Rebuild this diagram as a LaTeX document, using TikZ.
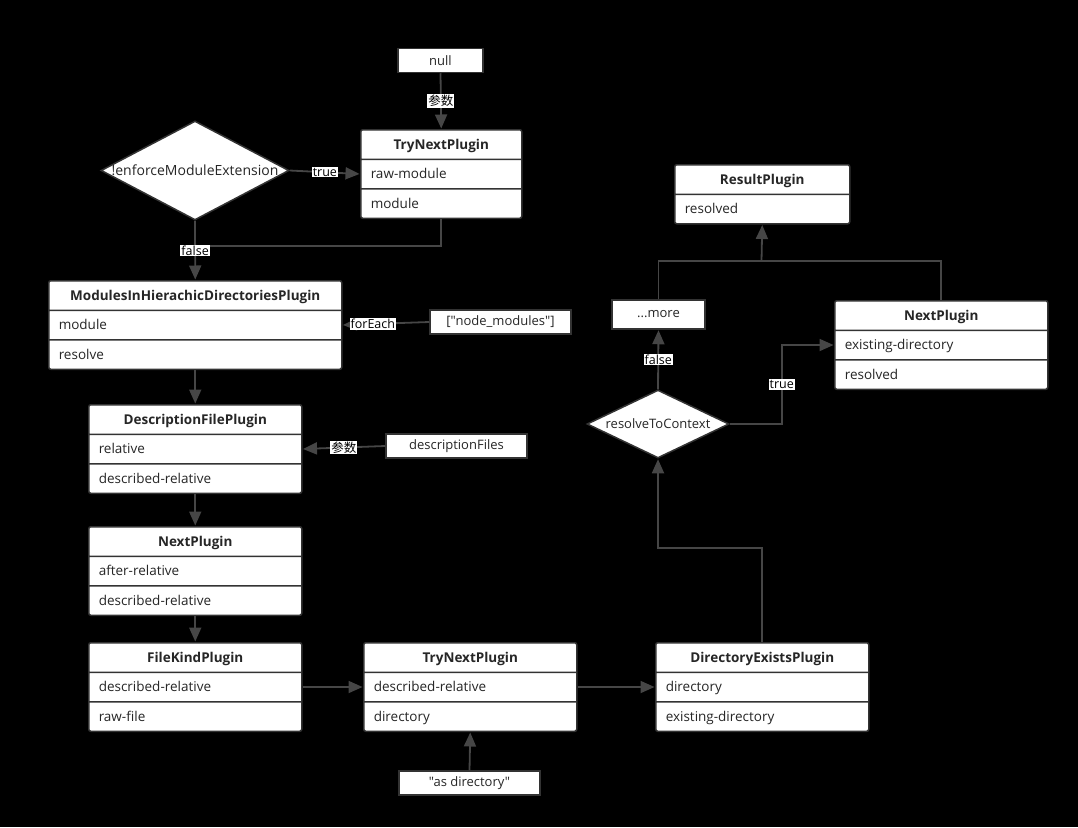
\documentclass[tikz,border=0pt]{standalone}
\usepackage{fontspec}
\setmainfont{Open Sans}
\newfontfamily\straight{Open Sans}[Mapping=]
\newfontfamily\cjk{Noto Sans CJK SC}
\usetikzlibrary{arrows.meta,shapes.multipart,shapes.geometric}
\definecolor{boxline}{HTML}{333333}
\definecolor{flowline}{HTML}{464646}
\newcommand{\rs}{\rule[-9.5pt]{0pt}{28pt}}
\newcommand{\ptitle}[1]{\makebox[\hsize][c]{\rs\textbf{#1}}}
\begin{document}
\begin{tikzpicture}[x=1pt,y=-1pt,
  plugin/.style={rectangle split, rectangle split parts=#1, draw=boxline, line width=1.5pt,
    fill=white, rounded corners=2pt, inner xsep=10pt, inner ysep=0pt, text width=193pt,
    align=left, anchor=north west, text=black!85, font=\fontsize{13.5}{15}\selectfont},
  value/.style={draw=boxline, line width=1.5pt, fill=white, minimum width=#1, minimum height=24pt,
    inner sep=0pt, text=black!85, font=\fontsize{13}{15}\selectfont},
  decision/.style={diamond, draw=boxline, line width=1.5pt, fill=white, inner sep=0pt,
    text=black!85, font=\fontsize{13}{15}\selectfont},
  flow/.style={draw=flowline, line width=1.8pt},
  flowarrow/.style={flow, -{Triangle[length=14pt,width=12pt]}, shorten >=0.5pt},
  lbl/.style={fill=white, text=black, inner sep=1pt, font=\fontsize{12.5}{14}\selectfont}]
\fill[black] (0,0) rectangle (1078,827);

% left column
\node[value=85pt] (null) at (440.5,60.5) {null};
\node[plugin=3, text width=141pt] (tn1) at (360,129)
  {\ptitle{TryNextPlugin}\nodepart{two}\rs raw-module\nodepart{three}\rs module};
\node[decision, minimum width=188pt, minimum height=99pt] (enf) at (195,170.5)
  {\makebox[0pt]{\fontsize{14}{15}\selectfont!enforceModuleExtension}};
\node[plugin=3, text width=273pt] (mod) at (48,280)
  {\ptitle{ModulesInHierachicDirectoriesPlugin}\nodepart{two}\rs module\nodepart{three}\rs resolve};
\node[value=141pt] (nodemods) at (500.5,322) {\straight["node\_modules"]};
\node[plugin=3] (dfp) at (88,404)
  {\ptitle{DescriptionFilePlugin}\nodepart{two}\rs relative\nodepart{three}\rs described-relative};
\node[value=141pt] (descfiles) at (456.5,446) {descriptionFiles};
\node[plugin=3] (np1) at (88,526)
  {\ptitle{NextPlugin}\nodepart{two}\rs after-relative\nodepart{three}\rs described-relative};
\node[plugin=3] (fk) at (88,642)
  {\ptitle{FileKindPlugin}\nodepart{two}\rs described-relative\nodepart{three}\rs raw-file};
\node[plugin=3] (tn2) at (363,642)
  {\ptitle{TryNextPlugin}\nodepart{two}\rs described-relative\nodepart{three}\rs directory};
\node[value=141pt] (asdir) at (469.5,783) {\straight"as directory"};

% right column
\node[plugin=3] (de) at (655,642)
  {\ptitle{DirectoryExistsPlugin}\nodepart{two}\rs directory\nodepart{three}\rs existing-directory};
\node[decision, minimum width=142pt, minimum height=68pt] (ctx) at (658,424)
  {\makebox[0pt]{resolveToContext}};
\node[value=93pt, minimum height=29pt] (more) at (658.5,314.5) {...more};
\node[plugin=3] (np2) at (834,300)
  {\ptitle{NextPlugin}\nodepart{two}\rs existing-directory\nodepart{three}\rs resolved};
\node[plugin=2, text width=155pt] (res) at (674,164)
  {\ptitle{ResultPlugin}\nodepart{two}\rs resolved};

\coordinate (falsejoin) at (195,246);
\coordinate (resjoin) at (761.5,261);

\draw[flowarrow] (null.south) -- node[lbl] {\cjk 参数} (tn1.north);
\draw[flowarrow] (enf.east) -- node[lbl, pos=0.5] {true} (tn1.two west);
\draw[flow] (tn1.south) |- (falsejoin);
\draw[flowarrow] (enf.south) -- node[lbl] {false} (mod.north);
\draw[flowarrow] (nodemods.west) -- node[lbl, pos=0.65] {forEach} (mod.two east);
\draw[flowarrow] (mod.south) -- (dfp.north);
\draw[flowarrow] (descfiles.west) -- node[lbl] {\cjk 参数} (dfp.two east);
\draw[flowarrow] (dfp.south) -- (np1.north);
\draw[flowarrow] (np1.south) -- (fk.north);
\draw[flowarrow] (fk.two east) -- (tn2.two west);
\draw[flowarrow] (asdir.north) -- (tn2.south);
\draw[flowarrow] (tn2.two east) -- (de.two west);
\draw[flowarrow] (de.north) -- ++(0,-94) -| (ctx.south);
\draw[flowarrow] (ctx.north) -- node[lbl] {false} (more.south);
\draw[flowarrow] (ctx.east) -- ++(52,0) |- node[lbl, pos=0.25] {true} (np2.two west);
\draw[flow] (more.north) |- (resjoin -| np2.north) -- (np2.north);
\draw[flowarrow] (resjoin) -- (res.south);
\end{tikzpicture}
\end{document}
